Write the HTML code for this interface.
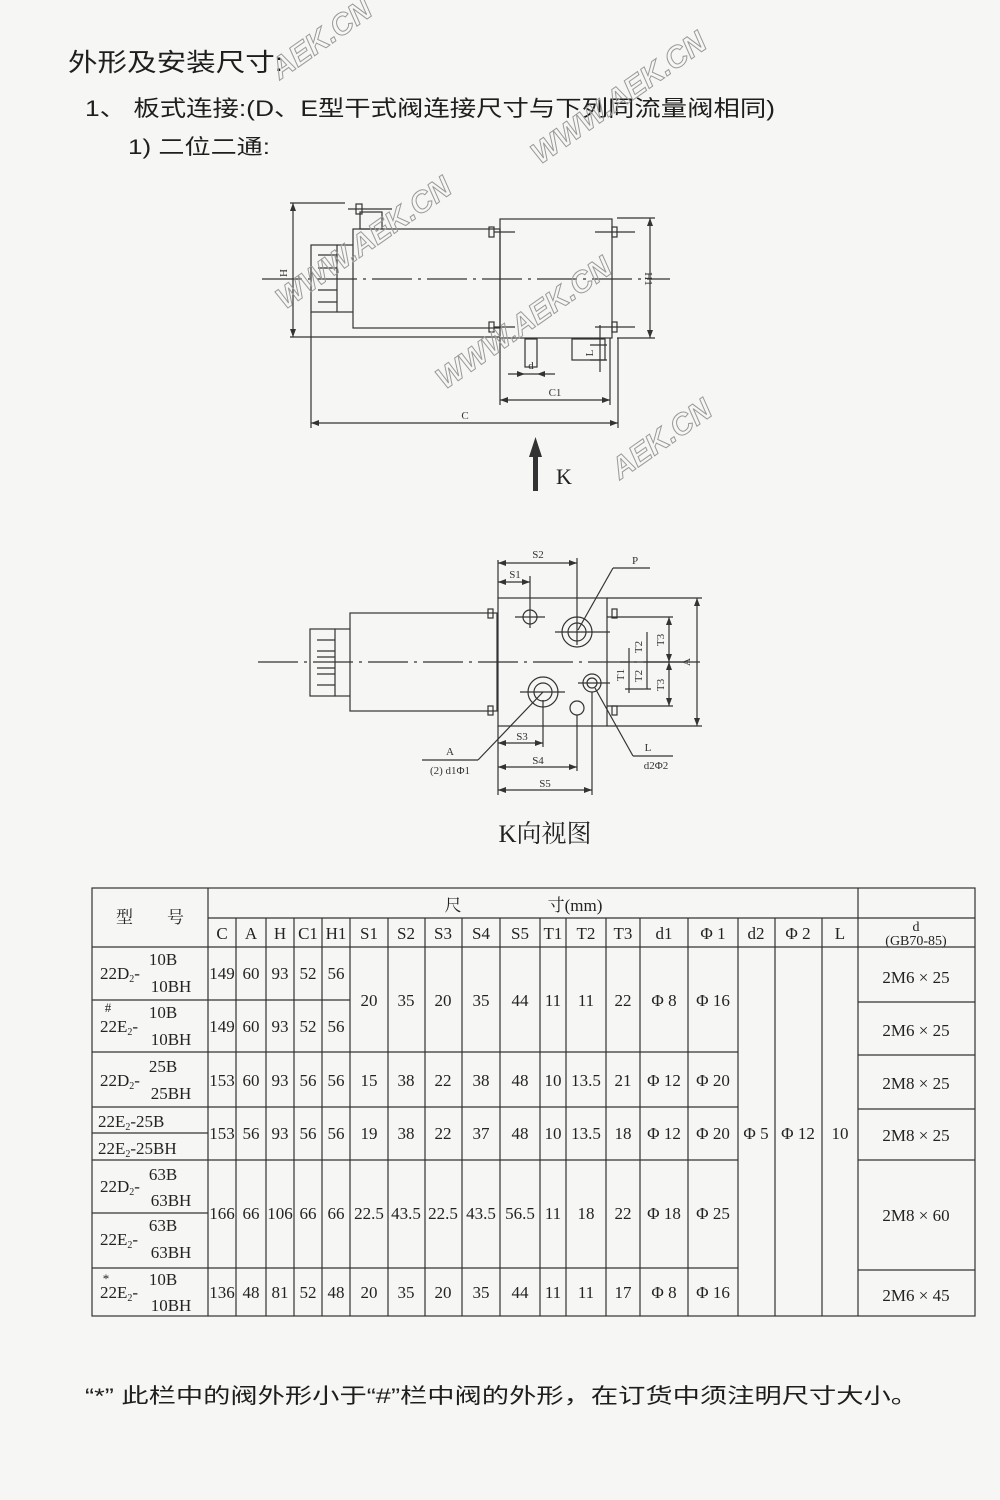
<!DOCTYPE html>
<html><head><meta charset="utf-8"><style>
html,body{margin:0;padding:0;background:#f6f6f4;}
svg{display:block;}
.cn{font-family:"Liberation Sans","Noto Sans CJK SC",sans-serif;fill:#1e1e1e;}
.t{font-family:"Liberation Serif","Noto Serif CJK SC",serif;fill:#222;font-size:17px;text-anchor:middle;}
.d{font-family:"Liberation Serif",serif;fill:#333;font-size:11px;text-anchor:middle;}
.wm{font-family:"Liberation Sans",sans-serif;font-weight:bold;font-style:italic;fill:none;stroke:#9a9a9a;stroke-width:1;font-size:30px;}
</style></head><body>
<svg width="1000" height="1500" viewBox="0 0 1000 1500" xmlns="http://www.w3.org/2000/svg">
<rect width="1000" height="1500" fill="#f6f6f4"/>
<text class="cn" x="68" y="71" font-size="25" textLength="215" lengthAdjust="spacingAndGlyphs">外形及安装尺寸:</text>
<text class="cn" x="85" y="116" font-size="22" textLength="690" lengthAdjust="spacingAndGlyphs">1、 板式连接:(D、E型干式阀连接尺寸与下列同流量阀相同)</text>
<text class="cn" x="128" y="154" font-size="21" textLength="142" lengthAdjust="spacingAndGlyphs">1) 二位二通:</text>

<g stroke="#333" stroke-width="1.2" fill="none">
 <rect x="353" y="229" width="147" height="99"/>
 <rect x="311" y="245" width="26" height="67"/>
 <line x1="318" y1="255" x2="337" y2="255"/><line x1="318" y1="268" x2="337" y2="268"/><line x1="318" y1="290" x2="337" y2="290"/><line x1="318" y1="302" x2="337" y2="302"/>
 <line x1="337" y1="245" x2="353" y2="245"/><line x1="337" y1="312" x2="353" y2="312"/>
 <rect x="360" y="212" width="22" height="17"/>
 <line x1="348" y1="209" x2="392" y2="209"/><rect x="356" y="204" width="6" height="10"/>
 <rect x="500" y="219" width="112" height="119"/>
 <rect x="489" y="227" width="5" height="10"/><rect x="489" y="322" width="5" height="10"/>
 <rect x="612" y="227" width="5" height="10"/><rect x="612" y="322" width="5" height="10"/>
 <line x1="494" y1="232" x2="515" y2="232"/><line x1="595" y1="232" x2="635" y2="232"/>
 <line x1="494" y1="327" x2="515" y2="327"/><line x1="595" y1="327" x2="635" y2="327"/>
 <rect x="572" y="339" width="33" height="21"/>
 <rect x="525" y="339" width="12" height="28"/>
 <line x1="262" y1="279" x2="670" y2="279" stroke-dasharray="40,6,3,6"/>
 <line x1="290" y1="203" x2="345" y2="203"/><line x1="290" y1="337" x2="500" y2="337"/>
 <line x1="293" y1="203" x2="293" y2="337"/>
 <line x1="617" y1="218" x2="655" y2="218"/><line x1="617" y1="338" x2="655" y2="338"/>
 <line x1="650" y1="218" x2="650" y2="338"/>
 <line x1="600" y1="325" x2="600" y2="372"/><line x1="590" y1="360" x2="607" y2="360"/><line x1="590" y1="345" x2="607" y2="345"/>
 <line x1="508" y1="374" x2="555" y2="374"/>
 <line x1="500" y1="338" x2="500" y2="405"/><line x1="610" y1="338" x2="610" y2="405"/>
 <line x1="500" y1="400" x2="610" y2="400"/>
 <line x1="311" y1="312" x2="311" y2="428"/><line x1="618" y1="338" x2="618" y2="428"/>
 <line x1="311" y1="423" x2="618" y2="423"/>
</g>
<g fill="#333">
 <polygon points="293,203 290,211 296,211"/><polygon points="293,337 290,329 296,329"/>
 <polygon points="650,218 647,226 653,226"/><polygon points="650,338 647,330 653,330"/>
 <polygon points="500,400 508,397 508,403"/><polygon points="610,400 602,397 602,403"/>
 <polygon points="311,423 319,420 319,426"/><polygon points="618,423 610,420 610,426"/>
 <polygon points="525,374 517,371 517,377"/><polygon points="537,374 545,371 545,377"/>
 <rect x="533" y="455" width="5" height="36"/><polygon points="535.5,437 529,457 542,457"/>
</g>
<text class="d" x="287" y="273" transform="rotate(-90 287 273)">H</text>
<text class="d" x="645" y="279" transform="rotate(90 645 279)">H1</text>
<text class="d" x="593" y="353" transform="rotate(-90 593 353)">L</text>
<text class="d" x="531" y="369">d</text>
<text class="d" x="555" y="396" font-size="13">C1</text>
<text class="d" x="465" y="419" font-size="13">C</text>
<text x="556" y="484" font-family="Liberation Serif,serif" font-size="22" fill="#222">K</text>

<g stroke="#333" stroke-width="1.2" fill="none">
 <rect x="350" y="613" width="147" height="98"/>
 <rect x="310" y="629" width="25" height="67"/>
 <line x1="317" y1="640" x2="335" y2="640"/><line x1="317" y1="651" x2="335" y2="651"/><line x1="317" y1="657" x2="335" y2="657"/><line x1="317" y1="668" x2="335" y2="668"/><line x1="317" y1="674" x2="335" y2="674"/><line x1="317" y1="685" x2="335" y2="685"/>
 <line x1="335" y1="629" x2="350" y2="629"/><line x1="335" y1="696" x2="350" y2="696"/>
 <rect x="498" y="598" width="109" height="128"/>
 <rect x="488" y="609" width="5" height="9"/><rect x="488" y="706" width="5" height="9"/>
 <rect x="612" y="609" width="5" height="9"/><rect x="612" y="706" width="5" height="9"/>
 <line x1="258" y1="662" x2="690" y2="662" stroke-dasharray="40,6,3,6"/>
 <circle cx="577" cy="632" r="15"/><circle cx="577" cy="632" r="9"/>
 <circle cx="543" cy="692" r="15"/><circle cx="543" cy="692" r="9"/>
 <circle cx="592" cy="683" r="9"/><circle cx="592" cy="683" r="5"/>
 <circle cx="530" cy="617" r="7"/><circle cx="577" cy="708" r="7"/>
 <line x1="515" y1="617" x2="545" y2="617"/><line x1="555" y1="632" x2="610" y2="632"/>
 <line x1="520" y1="692" x2="565" y2="692"/><line x1="578" y1="683" x2="610" y2="683"/>
 <line x1="498" y1="560" x2="498" y2="598"/>
 <line x1="577" y1="558" x2="577" y2="645"/><line x1="530" y1="576" x2="530" y2="628"/>
 <line x1="498" y1="563" x2="577" y2="563"/><line x1="498" y1="582" x2="530" y2="582"/>
 <line x1="650" y1="568" x2="613" y2="568"/><line x1="613" y1="568" x2="578" y2="630"/>
 <line x1="498" y1="726" x2="498" y2="795"/>
 <line x1="543" y1="700" x2="543" y2="747"/><line x1="577" y1="715" x2="577" y2="771"/><line x1="592" y1="692" x2="592" y2="795"/>
 <line x1="498" y1="743" x2="543" y2="743"/><line x1="498" y1="767" x2="577" y2="767"/><line x1="498" y1="790" x2="592" y2="790"/>
 <line x1="422" y1="760" x2="478" y2="760"/><line x1="478" y1="760" x2="543" y2="692"/>
 <line x1="595" y1="688" x2="633" y2="756"/><line x1="633" y1="756" x2="673" y2="756"/>
 <line x1="607" y1="598" x2="702" y2="598"/><line x1="607" y1="726" x2="702" y2="726"/>
 <line x1="697" y1="598" x2="697" y2="726"/>
 <line x1="607" y1="617" x2="673" y2="617"/><line x1="607" y1="706" x2="673" y2="706"/>
 <line x1="669" y1="617" x2="669" y2="706"/>
 <line x1="647" y1="632" x2="647" y2="689"/><line x1="625" y1="689" x2="651" y2="689"/>
 <line x1="629" y1="648" x2="629" y2="693"/><line x1="620" y1="662" x2="700" y2="662"/>
</g>
<g fill="#333">
 <polygon points="498,563 506,560 506,566"/><polygon points="577,563 569,560 569,566"/>
 <polygon points="498,582 506,579 506,585"/><polygon points="530,582 522,579 522,585"/>
 <polygon points="498,743 506,740 506,746"/><polygon points="543,743 535,740 535,746"/>
 <polygon points="498,767 506,764 506,770"/><polygon points="577,767 569,764 569,770"/>
 <polygon points="498,790 506,787 506,793"/><polygon points="592,790 584,787 584,793"/>
 <polygon points="697,598 694,606 700,606"/><polygon points="697,726 694,718 700,718"/>
 <polygon points="669,617 666,625 672,625"/><polygon points="669,706 666,698 672,698"/>
 <polygon points="669,662 666,654 672,654"/><polygon points="669,662 666,670 672,670"/>
</g>
<text class="d" x="538" y="558" font-size="12">S2</text>
<text class="d" x="515" y="578" font-size="12">S1</text>
<text class="d" x="635" y="564" font-size="12">P</text>
<text class="d" x="522" y="740" font-size="12">S3</text>
<text class="d" x="538" y="764" font-size="12">S4</text>
<text class="d" x="545" y="787" font-size="12">S5</text>
<text class="d" x="450" y="755" font-size="12">A</text>
<text class="d" x="450" y="774" font-size="12">(2) d1Φ1</text>
<text class="d" x="648" y="751" font-size="12">L</text>
<text class="d" x="656" y="769" font-size="12">d2Φ2</text>
<text class="d" x="690" y="662" font-size="12" transform="rotate(-90 690 662)">A</text>
<text class="d" x="664" y="640" transform="rotate(-90 664 640)">T3</text>
<text class="d" x="664" y="685" transform="rotate(-90 664 685)">T3</text>
<text class="d" x="642" y="647" transform="rotate(-90 642 647)">T2</text>
<text class="d" x="642" y="676" transform="rotate(-90 642 676)">T2</text>
<text class="d" x="624" y="675" transform="rotate(-90 624 675)">T1</text>
<text x="545" y="842" font-family="Liberation Serif,'Noto Serif CJK SC',serif" font-size="25" fill="#222" text-anchor="middle">K向视图</text>

<text class="wm" x="280" y="80" transform="rotate(-35 280 80)">AEK.CN</text>
<text class="wm" x="540" y="165" transform="rotate(-35 540 165)">WWW.AEK.CN</text>
<text class="wm" x="285" y="310" transform="rotate(-35 285 310)">WWW.AEK.CN</text>
<text class="wm" x="445" y="390" transform="rotate(-35 445 390)">WWW.AEK.CN</text>
<text class="wm" x="620" y="480" transform="rotate(-35 620 480)">AEK.CN</text>

<g stroke="#333" stroke-width="1.2">
 <rect x="92" y="888" width="883" height="428" fill="none"/>
 <line x1="208" y1="918" x2="975" y2="918"/>
 <line x1="92" y1="947" x2="975" y2="947"/>
 <line x1="92" y1="1000" x2="350" y2="1000"/><line x1="858" y1="1002" x2="975" y2="1002"/>
 <line x1="92" y1="1052" x2="738" y2="1052"/><line x1="858" y1="1055" x2="975" y2="1055"/>
 <line x1="92" y1="1107" x2="738" y2="1107"/><line x1="858" y1="1109" x2="975" y2="1109"/>
 <line x1="92" y1="1133" x2="208" y2="1133"/>
 <line x1="92" y1="1160" x2="738" y2="1160"/><line x1="858" y1="1160" x2="975" y2="1160"/>
 <line x1="92" y1="1213" x2="208" y2="1213"/>
 <line x1="92" y1="1268" x2="738" y2="1268"/><line x1="858" y1="1270" x2="975" y2="1270"/>
 <line x1="208" y1="888" x2="208" y2="1316"/><line x1="858" y1="888" x2="858" y2="1316"/>
 <line x1="236" y1="918" x2="236" y2="1316"/><line x1="266" y1="918" x2="266" y2="1316"/>
 <line x1="294" y1="918" x2="294" y2="1316"/><line x1="322" y1="918" x2="322" y2="1316"/>
 <line x1="350" y1="918" x2="350" y2="1316"/><line x1="388" y1="918" x2="388" y2="1316"/>
 <line x1="425" y1="918" x2="425" y2="1316"/><line x1="462" y1="918" x2="462" y2="1316"/>
 <line x1="500" y1="918" x2="500" y2="1316"/><line x1="540" y1="918" x2="540" y2="1316"/>
 <line x1="566" y1="918" x2="566" y2="1316"/><line x1="606" y1="918" x2="606" y2="1316"/>
 <line x1="640" y1="918" x2="640" y2="1316"/><line x1="688" y1="918" x2="688" y2="1316"/>
 <line x1="738" y1="918" x2="738" y2="1316"/><line x1="775" y1="918" x2="775" y2="1316"/>
 <line x1="822" y1="918" x2="822" y2="1316"/>
</g>
<g class="t">
 <text x="150" y="923" style="font-family:'Noto Serif CJK SC',serif">型　　号</text>
 <text x="453" y="911" style="font-family:'Noto Serif CJK SC',serif">尺</text>
 <text x="575" y="911">寸(mm)</text>
 <text x="222" y="939">C</text><text x="251" y="939">A</text><text x="280" y="939">H</text><text x="308" y="939">C1</text><text x="336" y="939">H1</text>
 <text x="369" y="939">S1</text><text x="406" y="939">S2</text><text x="443" y="939">S3</text><text x="481" y="939">S4</text><text x="520" y="939">S5</text>
 <text x="553" y="939">T1</text><text x="586" y="939">T2</text><text x="623" y="939">T3</text><text x="664" y="939">d1</text><text x="713" y="939">Φ 1</text>
 <text x="756" y="939">d2</text><text x="798" y="939">Φ 2</text><text x="840" y="939">L</text>
 <text x="916" y="931" font-size="14">d</text><text x="916" y="945" font-size="14">(GB70-85)</text>

 <text x="100" y="979" text-anchor="start">22D<tspan font-size="10" dy="3">2</tspan><tspan dy="-3">-</tspan></text>
 <text x="163" y="965">10B</text><text x="171" y="992">10BH</text>
 <text x="108" y="1012" font-size="13">#</text>
 <text x="100" y="1032" text-anchor="start">22E<tspan font-size="10" dy="3">2</tspan><tspan dy="-3">-</tspan></text>
 <text x="163" y="1018">10B</text><text x="171" y="1045">10BH</text>
 <text x="100" y="1086" text-anchor="start">22D<tspan font-size="10" dy="3">2</tspan><tspan dy="-3">-</tspan></text>
 <text x="163" y="1072">25B</text><text x="171" y="1099">25BH</text>
 <text x="98" y="1127" text-anchor="start">22E<tspan font-size="10" dy="3">2</tspan><tspan dy="-3">-25B</tspan></text>
 <text x="98" y="1154" text-anchor="start">22E<tspan font-size="10" dy="3">2</tspan><tspan dy="-3">-25BH</tspan></text>
 <text x="100" y="1192" text-anchor="start">22D<tspan font-size="10" dy="3">2</tspan><tspan dy="-3">-</tspan></text>
 <text x="163" y="1180">63B</text><text x="171" y="1206">63BH</text>
 <text x="100" y="1245" text-anchor="start">22E<tspan font-size="10" dy="3">2</tspan><tspan dy="-3">-</tspan></text>
 <text x="163" y="1231">63B</text><text x="171" y="1258">63BH</text>
 <text x="106" y="1283" font-size="13">*</text>
 <text x="100" y="1298" text-anchor="start">22E<tspan font-size="10" dy="3">2</tspan><tspan dy="-3">-</tspan></text>
 <text x="163" y="1285">10B</text><text x="171" y="1311">10BH</text>

 <text x="222" y="979">149</text><text x="251" y="979">60</text><text x="280" y="979">93</text><text x="308" y="979">52</text><text x="336" y="979">56</text>
 <text x="222" y="1032">149</text><text x="251" y="1032">60</text><text x="280" y="1032">93</text><text x="308" y="1032">52</text><text x="336" y="1032">56</text>
 <text x="369" y="1006">20</text><text x="406" y="1006">35</text><text x="443" y="1006">20</text><text x="481" y="1006">35</text><text x="520" y="1006">44</text>
 <text x="553" y="1006">11</text><text x="586" y="1006">11</text><text x="623" y="1006">22</text><text x="664" y="1006">Φ 8</text><text x="713" y="1006">Φ 16</text>
 <text x="916" y="983">2M6 × 25</text><text x="916" y="1036">2M6 × 25</text>
 <text x="222" y="1086">153</text><text x="251" y="1086">60</text><text x="280" y="1086">93</text><text x="308" y="1086">56</text><text x="336" y="1086">56</text>
 <text x="369" y="1086">15</text><text x="406" y="1086">38</text><text x="443" y="1086">22</text><text x="481" y="1086">38</text><text x="520" y="1086">48</text>
 <text x="553" y="1086">10</text><text x="586" y="1086">13.5</text><text x="623" y="1086">21</text><text x="664" y="1086">Φ 12</text><text x="713" y="1086">Φ 20</text>
 <text x="916" y="1089">2M8 × 25</text>
 <text x="222" y="1139">153</text><text x="251" y="1139">56</text><text x="280" y="1139">93</text><text x="308" y="1139">56</text><text x="336" y="1139">56</text>
 <text x="369" y="1139">19</text><text x="406" y="1139">38</text><text x="443" y="1139">22</text><text x="481" y="1139">37</text><text x="520" y="1139">48</text>
 <text x="553" y="1139">10</text><text x="586" y="1139">13.5</text><text x="623" y="1139">18</text><text x="664" y="1139">Φ 12</text><text x="713" y="1139">Φ 20</text>
 <text x="756" y="1139">Φ 5</text><text x="798" y="1139">Φ 12</text><text x="840" y="1139">10</text>
 <text x="916" y="1141">2M8 × 25</text>
 <text x="222" y="1219">166</text><text x="251" y="1219">66</text><text x="280" y="1219">106</text><text x="308" y="1219">66</text><text x="336" y="1219">66</text>
 <text x="369" y="1219">22.5</text><text x="406" y="1219">43.5</text><text x="443" y="1219">22.5</text><text x="481" y="1219">43.5</text><text x="520" y="1219">56.5</text>
 <text x="553" y="1219">11</text><text x="586" y="1219">18</text><text x="623" y="1219">22</text><text x="664" y="1219">Φ 18</text><text x="713" y="1219">Φ 25</text>
 <text x="916" y="1221">2M8 × 60</text>
 <text x="222" y="1298">136</text><text x="251" y="1298">48</text><text x="280" y="1298">81</text><text x="308" y="1298">52</text><text x="336" y="1298">48</text>
 <text x="369" y="1298">20</text><text x="406" y="1298">35</text><text x="443" y="1298">20</text><text x="481" y="1298">35</text><text x="520" y="1298">44</text>
 <text x="553" y="1298">11</text><text x="586" y="1298">11</text><text x="623" y="1298">17</text><text x="664" y="1298">Φ 8</text><text x="713" y="1298">Φ 16</text>
 <text x="916" y="1301">2M6 × 45</text>
</g>

<text class="cn" x="85" y="1403" font-size="21" textLength="833" lengthAdjust="spacingAndGlyphs">“*” 此栏中的阀外形小于“#”栏中阀的外形，在订货中须注明尺寸大小。</text>
</svg>
</body></html>
